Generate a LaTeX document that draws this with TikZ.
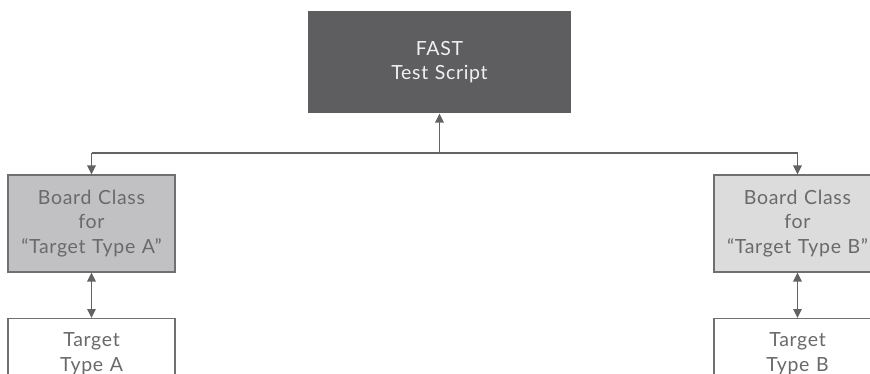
\documentclass[tikz,border=0pt]{standalone}
\usepackage{fontspec}
\setmainfont{Lato}[LetterSpace=3.5, WordSpace=1.15]
\usetikzlibrary{arrows.meta}
\definecolor{darkbox}{HTML}{5E5E60}
\definecolor{midbox}{HTML}{C1C1C3}
\definecolor{lightbox}{HTML}{DCDCDC}
\definecolor{edgegray}{HTML}{707072}
\definecolor{textgray}{HTML}{6A6A6C}
\definecolor{linegray}{HTML}{636365}
\newcommand{\openq}{\char"201C}
\newcommand{\closeq}{\char"201D}
\tikzset{
  box/.style={draw=edgegray, line width=1.2pt, align=center, inner sep=0pt,
    font=\fontsize{19.5}{24.5}\selectfont, text=textgray},
  link/.style={draw=linegray, line width=1.5pt,
    -{Triangle[length=9pt,width=8.5pt]}},
  dlink/.style={draw=linegray, line width=1.5pt,
    {Triangle[length=9pt,width=8.5pt]}-{Triangle[length=9pt,width=8.5pt]}}
}
\begin{document}
\begin{tikzpicture}[x=1pt,y=-1pt]
  \useasboundingbox (0,0) rectangle (870,374);
  \clip (0,0) rectangle (870,374);
  % top-level script
  \node[box, draw=none, fill=darkbox, text=white!94!black,
        minimum width=263pt, minimum height=102pt] (fast) at (439.5,62) {FAST\\Test Script};
  % board classes
  \node[box, fill=midbox, minimum width=167pt, minimum height=97pt]
        (bca) at (91.5,223.5) {Board Class\\for\\\openq Target Type A\closeq};
  \node[box, fill=lightbox, minimum width=167pt, minimum height=97pt]
        (bcb) at (797.5,223.5) {Board Class\\for\\\openq Target Type B\closeq};
  % targets
  \node[box, fill=white, minimum width=167pt, minimum height=70pt, anchor=north]
        (ta) at (91.5,318) {Target\\Type A};
  \node[box, fill=white, minimum width=167pt, minimum height=70pt, anchor=north]
        (tb) at (797.5,318) {Target\\Type B};
  % bus
  \coordinate (bl) at (bca.north |- 0,153);
  \coordinate (br) at (bcb.north |- 0,153);
  \coordinate (bm) at (fast.south |- 0,153);
  \draw[draw=linegray, line width=1.5pt] (bl) -- (br);
  \draw[link] (bm) -- (fast.south);
  \draw[link] (bl) -- (bca.north);
  \draw[link] (br) -- (bcb.north);
  \draw[dlink] (bca.south) -- (ta.north);
  \draw[dlink] (bcb.south) -- (tb.north);
\end{tikzpicture}
\end{document}
